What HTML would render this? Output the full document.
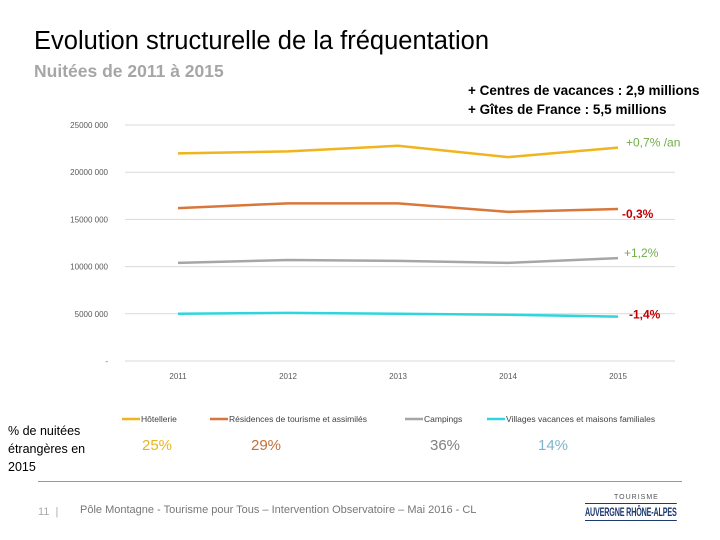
<!DOCTYPE html>
<html><head><meta charset="utf-8"><style>
body{margin:0;width:720px;height:540px;background:#fff;overflow:hidden;font-family:"Liberation Sans",sans-serif;}
.t{position:absolute;white-space:nowrap}
</style></head><body>
<div style="position:relative;width:720px;height:540px">
<div class="t" style="left:34px;top:27px;font-size:25.5px;color:#000;">Evolution structurelle de la fréquentation</div>
<div class="t" style="left:34px;top:61px;font-size:17.5px;font-weight:bold;color:#a6a6a6;">Nuitées de 2011 à 2015</div>
<div class="t" style="left:468px;top:83px;font-size:13.5px;font-weight:bold;color:#000;">+ Centres de vacances : 2,9 millions</div>
<div class="t" style="left:468px;top:102px;font-size:13.5px;font-weight:bold;color:#000;">+ Gîtes de France : 5,5 millions</div>
<svg id="chart" width="720" height="540" style="position:absolute;left:0;top:0"></svg>
<div class="t" style="left:8px;top:422px;font-size:12.5px;line-height:18px;color:#000;">% de nuitées<br>étrangères en<br>2015</div>
<div class="t" style="left:142px;top:437px;font-size:15px;color:#e8b520;">25%</div>
<div class="t" style="left:251px;top:437px;font-size:15px;color:#c0703a;">29%</div>
<div class="t" style="left:430px;top:437px;font-size:15px;color:#808080;">36%</div>
<div class="t" style="left:538px;top:437px;font-size:15px;color:#7fb4c8;">14%</div>
<div style="position:absolute;left:38px;top:481px;width:644px;height:1px;background:#999"></div>
<div class="t" style="left:38px;top:506px;font-size:11px;color:#aaa;">11 &nbsp;|</div>
<div class="t" style="left:80px;top:504px;font-size:11px;color:#777;">Pôle Montagne - Tourisme pour Tous – Intervention Observatoire – Mai 2016 - CL</div>
<div class="t" style="left:614px;top:494px;font-size:7px;color:#555;letter-spacing:1px;">TOURISME</div>
<div class="t" style="left:585px;top:503px;font-size:12px;line-height:16px;color:#1d3a6e;font-weight:bold;border-bottom:1px solid #1d3a6e;border-top:1px solid #1d3a6e;transform:scaleX(0.6);transform-origin:left;letter-spacing:-0.3px;">AUVERGNE RHÔNE-ALPES</div>
</div>
<script>
const years=["2011","2012","2013","2014","2015"];
const hotellerie=[22.0,22.2,22.8,21.6,22.6];
const residences=[16.2,16.7,16.7,15.8,16.1];
const campings=[10.4,10.7,10.6,10.4,10.9];
const villages=[5.0,5.1,5.0,4.9,4.7];
const yTicks=[0,5,10,15,20,25];
const yTickLabels=["-","5000 000","10000 000","15000 000","20000 000","25000 000"];
const seriesNames=["Hôtellerie","Résidences de tourisme et assimilés","Campings","Villages vacances et maisons familiales"];
const growth=["+0,7% /an","-0,3%","+1,2%","-1,4%"];
const svg=document.getElementById('chart');const NS='http://www.w3.org/2000/svg';
const x=i=>178+i*110;const y=v=>361-v*236/25;
function mk(t,a){const e=document.createElementNS(NS,t);for(const k in a)e.setAttribute(k,a[k]);svg.appendChild(e);return e;}
yTicks.forEach((v,i)=>{const g=mk('line',{x1:125,x2:675,y1:y(v),y2:y(v),stroke:'#d9d9d9','stroke-width':1});

const t=mk('text',{x:108,y:y(v)+3,'text-anchor':'end','font-size':8,fill:'#595959'});t.textContent=yTickLabels[i];
});
years.forEach((yr,i)=>{const t=mk('text',{x:x(i),y:379,'text-anchor':'middle','font-size':8,fill:'#595959'});t.textContent=yr;
});
const data=[hotellerie,residences,campings,villages];const cols=['#f0b41c','#d9773a','#a6a6a6','#2fd5dd'];
const gcol=['#70ad47','#c00000','#70ad47','#c00000'];const gx=[626,622,624,629];
data.forEach((s,k)=>{const p=mk('polyline',{points:s.map((v,i)=>x(i)+','+y(v)).join(' '),fill:'none',stroke:cols[k],'stroke-width':2.5});

const t=mk('text',{x:gx[k],y:y(s[4])+(k==1?9:k==3?2:-1),'font-size':12,'font-weight':k%2?'bold':'normal',fill:gcol[k]});t.textContent=growth[k];
});
const lx=[122,210,405,487];
seriesNames.forEach((n,k)=>{const l=mk('line',{x1:lx[k],x2:lx[k]+18,y1:419,y2:419,stroke:cols[k],'stroke-width':2.5});

const t=mk('text',{x:lx[k]+19,y:422,'font-size':8.5,fill:'#404040'});t.textContent=n;
});
</script>
</body></html>
